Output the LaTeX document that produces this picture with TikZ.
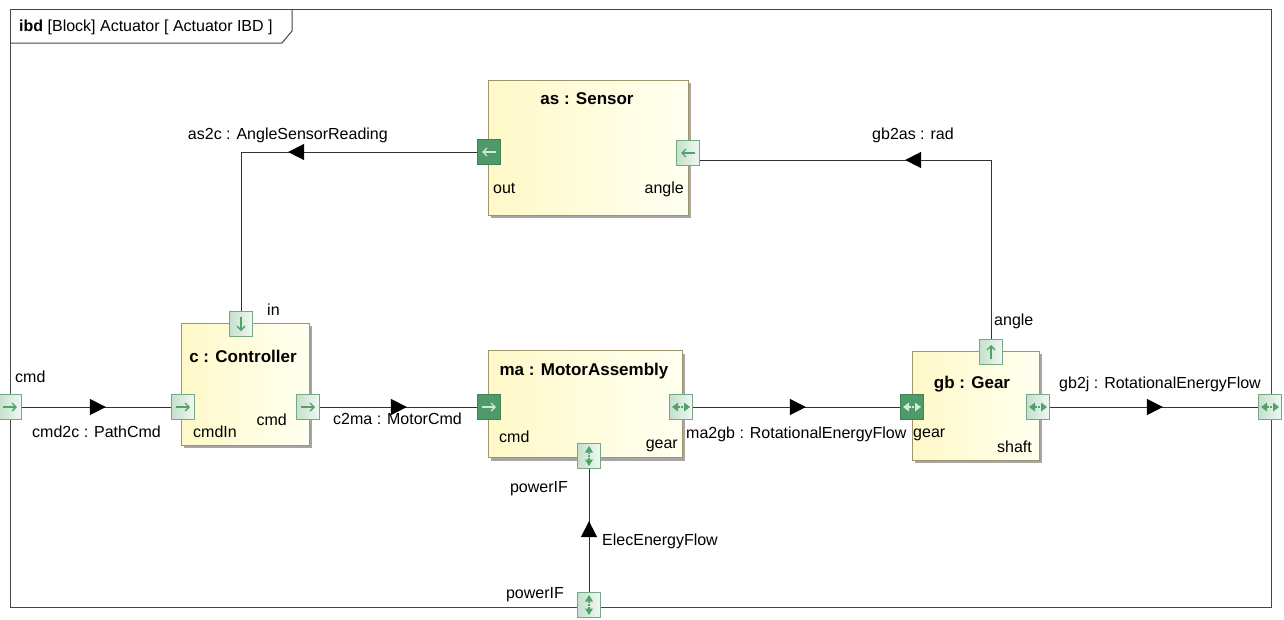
\documentclass[tikz,border=0pt]{standalone}
\usepackage{fontspec}
\setmainfont{Liberation Sans}
\usetikzlibrary{arrows.meta,decorations.markings,shadows}
\definecolor{linec}{RGB}{50,50,50}
\definecolor{framec}{RGB}{70,70,70}
\definecolor{blockborder}{RGB}{160,150,110}
\definecolor{blockA}{RGB}{255,249,200}
\definecolor{blockB}{RGB}{255,255,240}
\definecolor{portA}{RGB}{196,224,204}
\definecolor{portB}{RGB}{240,248,242}
\definecolor{portborder}{RGB}{118,168,134}
\definecolor{portdark}{RGB}{78,154,104}
\definecolor{portdarkborder}{RGB}{62,132,86}
\definecolor{symc}{RGB}{82,160,108}
\definecolor{symlight}{RGB}{205,235,214}
\newcommand\psymR[2]{\draw[#2,line width=1.3pt,-{Straight Barb[length=4pt,width=8pt]}] ([xshift=-7pt]#1.center) -- ([xshift=7pt]#1.center);}
\newcommand\psymL[2]{\draw[#2,line width=1.3pt,-{Straight Barb[length=4pt,width=8pt]}] ([xshift=7pt]#1.center) -- ([xshift=-7pt]#1.center);}
\newcommand\psymD[2]{\draw[#2,line width=1.3pt,-{Straight Barb[length=4pt,width=8pt]}] ([yshift=7pt]#1.center) -- ([yshift=-7pt]#1.center);}
\newcommand\psymU[2]{\draw[#2,line width=1.3pt,-{Straight Barb[length=4pt,width=8pt]}] ([yshift=-7pt]#1.center) -- ([yshift=7pt]#1.center);}
\newcommand\psymLR[2]{%
  \fill[#2] ([xshift=-9pt]#1.center) -- ([xshift=-3pt,yshift=4.5pt]#1.center) -- ([xshift=-3pt,yshift=-4.5pt]#1.center) -- cycle;
  \fill[#2] ([xshift=9pt]#1.center) -- ([xshift=3pt,yshift=4.5pt]#1.center) -- ([xshift=3pt,yshift=-4.5pt]#1.center) -- cycle;
  \draw[#2,line width=1.2pt,dash pattern=on 1.5pt off 1.5pt] ([xshift=-3pt]#1.center) -- ([xshift=3pt]#1.center);}
\newcommand\psymUD[2]{%
  \fill[#2] ([yshift=10pt]#1.center) -- ([xshift=4pt,yshift=3.5pt]#1.center) -- ([xshift=-4pt,yshift=3.5pt]#1.center) -- cycle;
  \fill[#2] ([yshift=-10pt]#1.center) -- ([xshift=4pt,yshift=-3.5pt]#1.center) -- ([xshift=-4pt,yshift=-3.5pt]#1.center) -- cycle;
  \draw[#2,line width=1.2pt,dash pattern=on 1.5pt off 1.5pt] ([yshift=-3.5pt]#1.center) -- ([yshift=3.5pt]#1.center);}
\tikzset{
  framel/.style={draw=framec,line width=1pt},
  block/.style={rectangle,draw=blockborder,line width=1pt,left color=blockA,right color=blockB,inner sep=0pt,
    drop shadow={shadow xshift=3pt,shadow yshift=-3pt,fill=black!35,opacity=1}},
  port/.style={rectangle,draw=portborder,line width=0.8pt,left color=portA,right color=portB,minimum width=23pt,minimum height=25pt,inner sep=0pt},
  dport/.style={rectangle,draw=portdarkborder,line width=0.8pt,fill=portdark,minimum width=23pt,minimum height=25pt,inner sep=0pt},
  txt/.style={font=\fontsize{16}{19}\selectfont,inner sep=0pt,text=black},
  ttl/.style={font=\bfseries\fontsize{17}{20}\selectfont,inner sep=0pt,anchor=base},
  flow/.style={draw=linec,line width=1pt,postaction={decorate},
    decoration={markings,mark=at position #1 with {\arrow[black]{Triangle[length=16pt,width=16pt]}}}}
}
\begin{document}
\begin{tikzpicture}[x=1pt,y=-1pt]
\useasboundingbox (0,0) rectangle (1284,619);
\fill[white] (0,0) rectangle (1284,619);
% frame
\draw[framel] (10,9) rectangle (1271,607);
\draw[framel] (10,43) -- (282,43) -- (292,31) -- (292,9);
\node[txt,anchor=base west] (ttl) at (19,31) {\textbf{ibd} [Block] Actuator [ Actuator IBD ]};
% blocks
\node[block,minimum width=200pt,minimum height=135pt] (asB) at (588,147.5) {};
\node[block,minimum width=128pt,minimum height=122pt] (cB) at (245,384) {};
\node[block,minimum width=194pt,minimum height=107pt] (maB) at (585,404) {};
\node[block,minimum width=127pt,minimum height=109pt] (gbB) at (975.5,405.5) {};
\node[ttl] (asT) at (587,104) {as : Sensor};
\node[ttl] (cT) at (243,362) {c : Controller};
\node[ttl] (maT) at (584,375) {ma : MotorAssembly};
\node[ttl] (gbT) at (972,388) {gb : Gear};
% ports
\node[port] (fCmd) at (10,407) {};
\node[port] (fShaft) at (1270,407) {};
\node[port] (fPow) at (589,605) {};
\node[port] (cIn) at (241,324) {};
\node[port] (cCmdIn) at (183,407) {};
\node[port] (cCmd) at (308,407) {};
\node[dport] (asOut) at (489,152) {};
\node[port] (asAng) at (688,153) {};
\node[dport] (maCmd) at (489,407) {};
\node[port] (maGear) at (681,407) {};
\node[port] (maPow) at (589,456) {};
\node[port] (gbAng) at (991,352) {};
\node[dport] (gbGear) at (912,407) {};
\node[port] (gbShaft) at (1038,407) {};
% port symbols
\psymR{fCmd}{symc}
\psymR{cCmdIn}{symc}
\psymR{cCmd}{symc}
\psymR{maCmd}{symlight}
\psymL{asOut}{symlight}
\psymL{asAng}{symc}
\psymD{cIn}{symc}
\psymU{gbAng}{symc}
\psymLR{maGear}{symc}
\psymLR{gbGear}{symlight}
\psymLR{gbShaft}{symc}
\psymLR{fShaft}{symc}
\psymUD{maPow}{symc}
\psymUD{fPow}{symc}
% connectors
\draw[flow=84pt] (fCmd.east) -- (cCmdIn.west);
\draw[flow=87pt] (cCmd.east) -- (maCmd.west);
\draw[flow=113pt] (maGear.east) -- (gbGear.west);
\draw[flow=113pt] (gbShaft.east) -- (fShaft.west);
\draw[flow=189pt] (asOut.west) -| (cIn.north);
\draw[flow=265pt] (gbAng.north) |- ([yshift=-7pt]asAng.east);
\draw[flow=71pt] (fPow.north) -- (maPow.south);
% labels
\node[txt,anchor=base west] (lCmdF) at (15,382) {cmd};
\node[txt,anchor=base west] (lCmd2c) at (32,437) {cmd2c : PathCmd};
\node[txt,anchor=base west] (lIn) at (267,315) {in};
\node[txt,anchor=base west] (lCmdIn) at (193,437) {cmdIn};
\node[txt,anchor=base east] (lCCmd) at (287,425) {cmd};
\node[txt,anchor=base west] (lC2ma) at (333,424) {c2ma : MotorCmd};
\node[txt,anchor=base west] (lMaCmd) at (499,442) {cmd};
\node[txt,anchor=base east] (lMaGear) at (678,448) {gear};
\node[txt,anchor=base east] (lMaPow) at (568,492) {powerIF};
\node[txt,anchor=base west] (lMa2gb) at (686,438) {ma2gb : RotationalEnergyFlow};
\node[txt,anchor=base west] (lGbGear) at (913,437) {gear};
\node[txt,anchor=base east] (lGbShaft) at (1032,452) {shaft};
\node[txt,anchor=base west] (lGbAng) at (994,325) {angle};
\node[txt,anchor=base west] (lGb2j) at (1059,388) {gb2j : RotationalEnergyFlow};
\node[txt,anchor=base west] (lGb2as) at (872,139) {gb2as : rad};
\node[txt,anchor=base east] (lAs2c) at (388,139) {as2c : AngleSensorReading};
\node[txt,anchor=base west] (lElec) at (602,545) {ElecEnergyFlow};
\node[txt,anchor=base east] (lPowF) at (564,598) {powerIF};
\node[txt,anchor=base west] (lOut) at (493,193) {out};
\node[txt,anchor=base east] (lAsAng) at (684,193) {angle};
\end{tikzpicture}
\end{document}
